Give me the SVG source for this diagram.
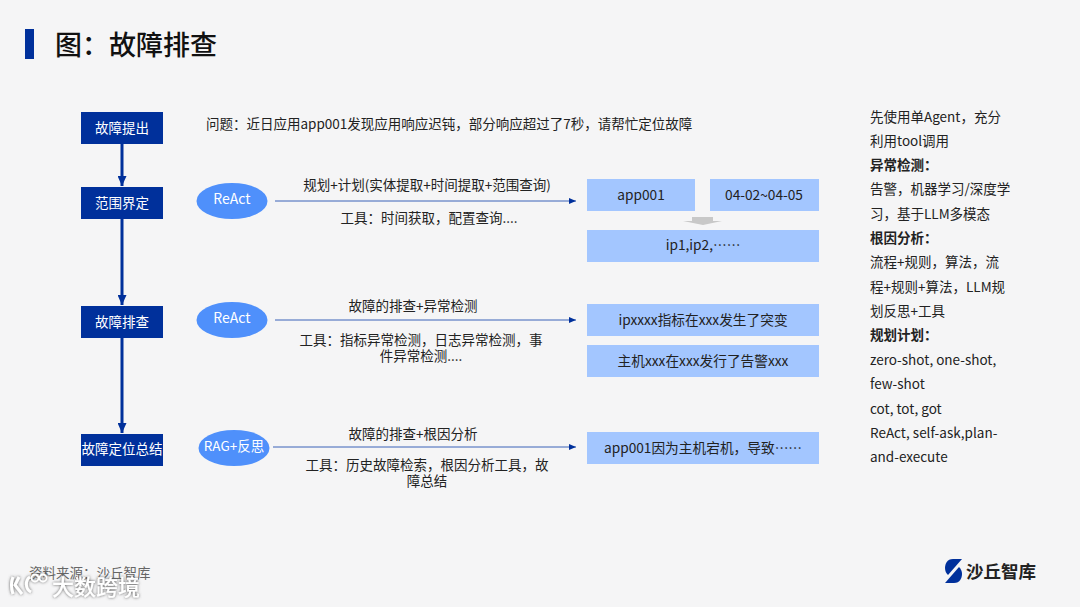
<svg xmlns="http://www.w3.org/2000/svg" xml:lang="zh-CN" lang="zh-CN" width="1080" height="607" viewBox="0 0 1080 607">
<style>
text{font-family:"Noto Sans CJK SC","Noto Sans",sans-serif;}
.t{font-size:13.500px;fill:#222;text-anchor:middle}
.l{font-size:13.500px;fill:#222}
.n{fill:#00309b}
.nt{font-size:13.500px;fill:#fff;text-anchor:middle}
.e{fill:#4f90fb}
.et{font-size:14px;fill:#fff;text-anchor:middle}
.b{fill:#a3c6ff}
.bt{font-size:13.700px;fill:#222;text-anchor:middle}
.v{stroke:#00309b;stroke-width:3;fill:none}
.h{stroke:#3b62b8;stroke-width:1;fill:none}
.r{font-size:13.500px;fill:#222}
.rb{font-size:13.500px;fill:#222;font-weight:700}
.w{font-size:22px;font-weight:500;fill:#fff}
</style>
<defs>
<marker id="av" markerUnits="userSpaceOnUse" markerWidth="10" markerHeight="9" refX="10" refY="4.500" orient="auto"><path d="M0 0L10 4.500L0 9Z" fill="#00309b"/></marker>
<marker id="ah" markerUnits="userSpaceOnUse" markerWidth="7" markerHeight="6" refX="7" refY="3" orient="auto"><path d="M0 0L7 3L0 6Z" fill="#00309b"/></marker>
<filter id="glow" x="-20%" y="-30%" width="140%" height="160%"><feDropShadow dx="0" dy="0" stdDeviation="1.500" flood-color="#555" flood-opacity="1"/></filter>
</defs>
<rect width="1080" height="607" fill="#f5f5f6"/>
<rect x="25" y="29" width="9" height="30" fill="#00309b"/>
<text x="55" y="55" font-size="27" font-weight="500" fill="#111">图：故障排查</text>

<g id="connectors">
<line class="v" x1="122" y1="144" x2="122" y2="186" marker-end="url(#av)"/>
<line class="v" x1="122" y1="219" x2="122" y2="305" marker-end="url(#av)"/>
<line class="v" x1="122" y1="338" x2="122" y2="433" marker-end="url(#av)"/>
<line class="h" x1="275" y1="201" x2="576" y2="201" marker-end="url(#ah)"/>
<line class="h" x1="275" y1="320" x2="576" y2="320" marker-end="url(#ah)"/>
<line class="h" x1="273" y1="447" x2="576" y2="447" marker-end="url(#ah)"/>
</g>

<g id="n1"><rect class="n" x="81" y="112" width="82" height="32"/><text class="nt" x="122" y="133">故障提出</text></g>
<g id="n2"><rect class="n" x="81" y="187" width="82" height="32"/><text class="nt" x="122" y="208">范围界定</text></g>
<g id="n3"><rect class="n" x="81" y="306" width="82" height="32"/><text class="nt" x="122" y="327">故障排查</text></g>
<g id="n4"><rect class="n" x="81" y="434" width="82" height="32"/><text class="nt" x="122" y="454">故障定位总结</text></g>

<g id="q"><text class="l" x="206" y="129">问题：近日应用app001发现应用响应迟钝，部分响应超过了7秒，请帮忙定位故障</text></g>

<g id="e1"><ellipse class="e" cx="232" cy="201" rx="35.500" ry="18"/><text class="et" x="232" y="204">ReAct</text></g>
<g id="e2"><ellipse class="e" cx="232" cy="320" rx="35.500" ry="18"/><text class="et" x="232" y="323">ReAct</text></g>
<g id="e3"><ellipse class="e" cx="234" cy="448" rx="35.500" ry="18"/><text class="et" x="234" y="451" style="font-size:13.500px">RAG+反思</text></g>

<g id="l1"><text class="t" x="427" y="190">规划+计划(实体提取+时间提取+范围查询)</text><text class="t" x="429" y="222.500">工具：时间获取，配置查询....</text></g>
<g id="l2"><text class="t" x="413" y="310.500">故障的排查+异常检测</text><text class="t" y="344.500"><tspan x="421">工具：指标异常检测，日志异常检测，事</tspan><tspan x="421" dy="16">件异常检测....</tspan></text></g>
<g id="l3"><text class="t" x="413" y="438.500">故障的排查+根因分析</text><text class="t" y="469.500"><tspan x="427">工具：历史故障检索，根因分析工具，故</tspan><tspan x="427" dy="16">障总结</tspan></text></g>

<g id="b1"><rect class="b" x="587" y="179" width="108" height="32"/><text class="bt" x="641" y="200">app001</text></g>
<g id="b2"><rect class="b" x="710" y="179" width="109" height="32"/><text class="bt" x="764" y="200">04-02~04-05</text></g>
<path id="down" d="M692 217H713V221H722L703 225L683 221H692Z" fill="#c8c8c8"/>
<g id="b3"><rect class="b" x="587" y="230" width="232" height="32"/><text class="bt" x="703" y="250">ip1,ip2,……</text></g>
<g id="b4"><rect class="b" x="587" y="304" width="232" height="32"/><text class="bt" x="703" y="325">ipxxxx指标在xxx发生了突变</text></g>
<g id="b5"><rect class="b" x="587" y="345" width="232" height="32"/><text class="bt" x="703" y="366">主机xxx在xxx发行了告警xxx</text></g>
<g id="b6"><rect class="b" x="587" y="432" width="232" height="32"/><text class="bt" x="703" y="453">app001因为主机宕机，导致……</text></g>

<g id="notes">
<text class="r" x="870" y="122">先使用单Agent，充分</text>
<text class="r" x="870" y="146">利用tool调用</text>
<text class="rb" x="870" y="170">异常检测：</text>
<text class="r" x="870" y="194">告警，机器学习/深度学</text>
<text class="r" x="870" y="219">习，基于LLM多模态</text>
<text class="rb" x="870" y="243">根因分析：</text>
<text class="r" x="870" y="267">流程+规则，算法，流</text>
<text class="r" x="870" y="292">程+规则+算法，LLM规</text>
<text class="r" x="870" y="316">划反思+工具</text>
<text class="rb" x="870" y="340">规划计划：</text>
<text class="r" x="870" y="365">zero-shot, one-shot,</text>
<text class="r" x="870" y="389">few-shot</text>
<text class="r" x="870" y="414">cot, tot, got</text>
<text class="r" x="870" y="438">ReAct, self-ask,plan-</text>
<text class="r" x="870" y="462">and-execute</text>
</g>

<text x="29" y="577.500" font-size="13.500" fill="#666">资料来源：沙丘智库</text>
<g id="logo">
<path d="M962 559L953 559C947 559 945 564 945 568C945 571 946 573 948 575Z" fill="#00309b"/>
<path d="M945 583L954 583C960 583 962 578 962 574C962 571 961 569 959 567Z" fill="#00309b"/>
<text x="966" y="578" font-size="17.500" font-weight="700" fill="#222">沙丘智库</text>
</g>
<g id="watermark" filter="url(#glow)">
<text class="w" x="52" y="595">大数跨境</text>
<path d="M13 577C11 582 11 588 13 594M19 577L15 585L22 594M30 577C25 580 25 589 31 592" fill="none" stroke="#fff" stroke-width="3"/>
<circle cx="35" cy="578" r="3.500" fill="none" stroke="#fff" stroke-width="1.800"/>
<circle cx="43" cy="578" r="3.500" fill="none" stroke="#fff" stroke-width="1.800"/>
</g>
</svg>
